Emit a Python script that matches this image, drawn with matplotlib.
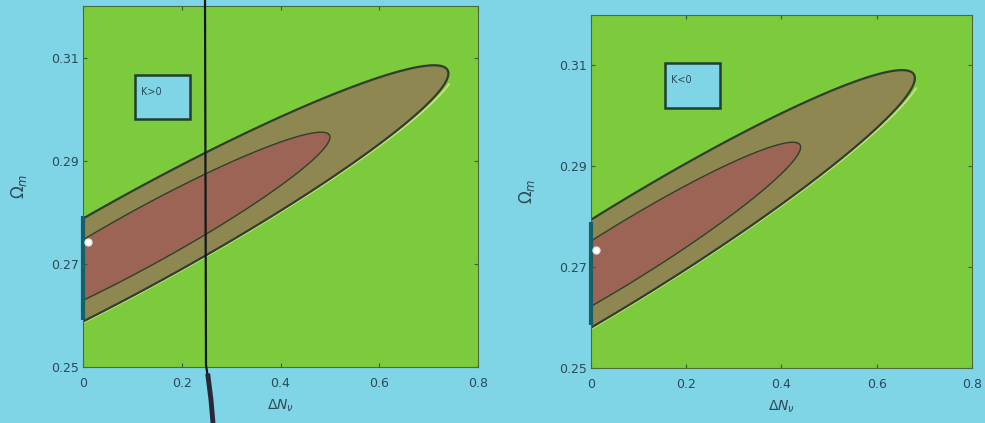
import matplotlib
matplotlib.use("Agg")
import matplotlib.pyplot as plt
import numpy as np
from matplotlib.lines import Line2D
from matplotlib.patches import Rectangle

# axis ranges and ticks
x_range = (0.0, 0.8)
y_range = (0.25, 0.32)
x_ticks = [0, 0.2, 0.4, 0.6, 0.8]
x_tick_labels = ["0", "0.2", "0.4", "0.6", "0.8"]
y_ticks = [0.25, 0.27, 0.29, 0.31]
y_tick_labels = ["0.25", "0.27", "0.29", "0.31"]

# delta chi^2 levels for the 68% / 95% regions
levels = [2.30, 6.17]

# degeneracy fit for each panel: ridge intercept, ridge slope, x centre, x width, y width
panel_labels = ["K>0", "K<0"]
ridge_y0 = [0.2688, 0.2687]
ridge_slope = [0.0515, 0.0570]
x_centre = [0.124, 0.064]
x_width = [0.248, 0.248]
y_width = [0.0041, 0.00433]
best_fit_y = [0.2742, 0.2734]
edge_strip = [(0.2592, 0.2792), (0.2585, 0.2789)]

BG = "#7fd4e6"
GREEN = "#7ccb3d"
OUTER = "#8f8752"
INNER = "#9b6455"
LINE = "#2f3f2a"
TEXT = "#2b4b58"

fig = plt.figure(figsize=(9.85, 4.23), dpi=100, facecolor=BG)

axes_rects = [[0.0843, 0.1324, 0.4010, 0.8534],
              [0.6000, 0.1300, 0.3868, 0.8345]]
legend_boxes = [(0.105, 0.2980, 0.112, 0.0087), (0.155, 0.3015, 0.116, 0.0089)]

xx = np.linspace(x_range[0], x_range[1], 500)
yy = np.linspace(y_range[0], y_range[1], 500)
X, Y = np.meshgrid(xx, yy)

for i in range(2):
    ax = fig.add_axes(axes_rects[i])
    ax.set_facecolor(GREEN)

    ridge = ridge_y0[i] + ridge_slope[i] * X
    chi2 = ((Y - ridge) / y_width[i]) ** 2 + ((X - x_centre[i]) / x_width[i]) ** 2

    ax.contourf(X, Y, chi2, levels=[0, levels[0], levels[1], 1e6],
                colors=[INNER, OUTER, GREEN])
    # pale rim along the lower edge of the outer region
    lower = np.where(Y < ridge - 0.002, chi2, np.nan)
    ax.contour(X, Y, lower, levels=[levels[1] + 0.3], colors=["#e6e49c"],
               linewidths=1.2, alpha=0.8)
    ax.contour(X, Y, chi2, levels=levels, colors=[LINE], linewidths=[1.0, 1.6])

    # parameter boundary strip at Delta N = 0
    ax.plot([0, 0], edge_strip[i], color="#1a5f68", lw=3, solid_capstyle="butt",
            clip_on=False, zorder=5)
    ax.plot([0.01], [best_fit_y[i]], "o", ms=5, color="white", mec="#dfe8e8",
            zorder=6, clip_on=False)

    bx, by, bw, bh = legend_boxes[i]
    ax.add_patch(Rectangle((bx, by), bw, bh, facecolor=BG, edgecolor="#1f3f30",
                           lw=1.8, zorder=7))
    ax.text(bx + 0.012, by + bh * 0.62, panel_labels[i], fontsize=7, color=TEXT,
            va="center", ha="left", zorder=8)

    ax.set_xlim(*x_range)
    ax.set_ylim(*y_range)
    ax.set_xticks(x_ticks)
    ax.set_xticklabels(x_tick_labels)
    ax.set_yticks(y_ticks)
    ax.set_yticklabels(y_tick_labels)
    ax.tick_params(direction="in", length=3, width=0.8, color="#3c5a3c",
                   labelsize=9, labelcolor=TEXT, top=True, right=True, pad=3)
    ax.tick_params(axis="x", pad=7)
    for s in ax.spines.values():
        s.set_color("#4a6a40")
        s.set_linewidth(0.8)

    ax.set_xlabel(r"$\Delta N_\nu$", fontsize=10, color=TEXT, labelpad=6)
    ax.set_ylabel(r"$\Omega_m$", fontsize=12, color=TEXT, labelpad=16)

# pointer crossing the left panel
fig.add_artist(Line2D([205 / 985, 206 / 985, 208 / 985],
                      [1.0, 1 - 365 / 423, 1 - 378 / 423],
                      color="#101818", lw=1.6))
fig.add_artist(Line2D([208 / 985, 211 / 985, 213 / 985],
                      [1 - 376 / 423, 1 - 400 / 423, 0.0],
                      color="#2a2838", lw=3.5))

fig.savefig("out.png", dpi=100, facecolor=BG)
